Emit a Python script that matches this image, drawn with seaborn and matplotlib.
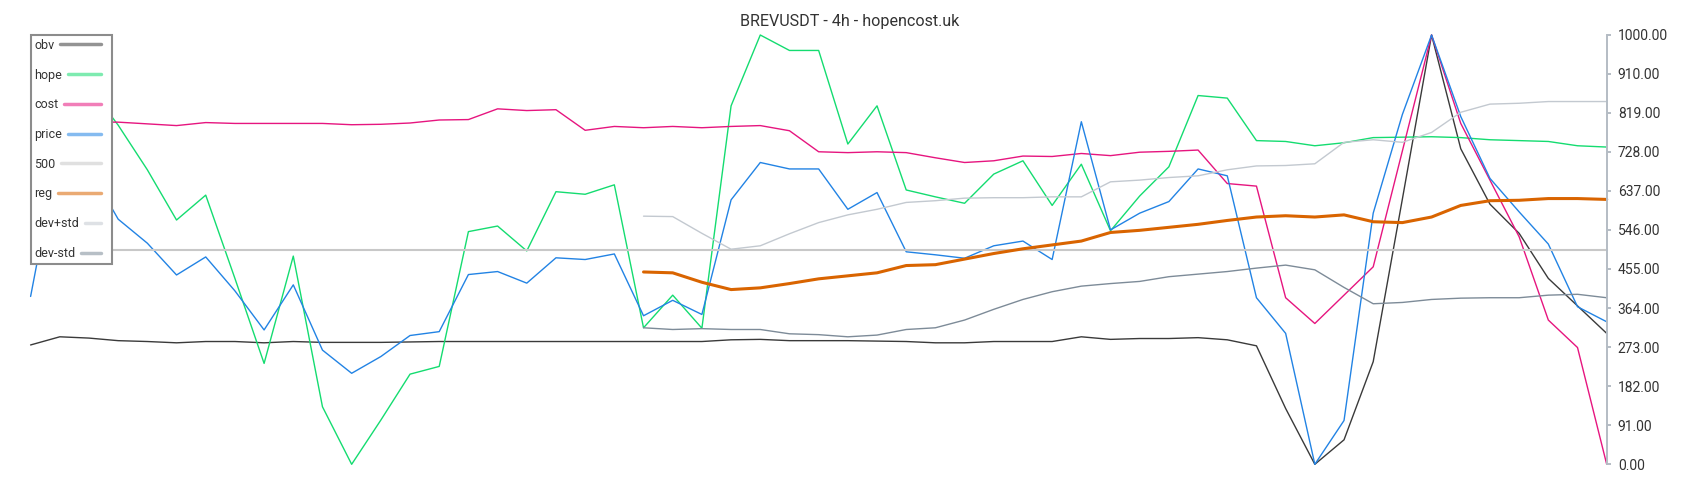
import numpy as np
import pandas as pd
import matplotlib
matplotlib.use("Agg")
import matplotlib.pyplot as plt
import seaborn as sns

# ---------------- data (normalised 0..1000) ----------------
obv = [278, 297, 294, 288, 286, 283, 286, 286, 283, 286,
       284, 284, 284, 285, 286, 286, 286, 286, 286, 286,
       286, 286, 286, 286, 290, 291, 288, 288, 288, 287,
       286, 283, 283, 286, 286, 286, 297, 291, 293, 293,
       295, 290, 276, 130, 0, 57, 239, 618, 1000, 735,
       606, 538, 433, 369, 305]
hope = [760, 840, 880, 790, 686, 569, 627, 433, 235, 485,
        134, 0, 103, 210, 228, 542, 555, 497, 635, 629,
        651, 318, 394, 317, 835, 1000, 964, 964, 746, 835,
        639, 623, 608, 676, 707, 603, 699, 544, 625, 693,
        859, 853, 754, 752, 742, 749, 761, 762, 763, 761,
        756, 754, 752, 742, 739]
cost = [800, 800, 797, 797, 793, 789, 796, 794, 794, 794,
        794, 791, 792, 795, 802, 803, 828, 824, 826, 778,
        787, 784, 787, 784, 787, 789, 777, 728, 726, 728,
        726, 714, 703, 707, 718, 717, 724, 719, 727, 729,
        732, 654, 648, 388, 328, 394, 460, 730, 1000, 794,
        662, 530, 336, 272, 0]
price = [391, 746, 690, 571, 515, 441, 483, 404, 313, 418,
         266, 212, 251, 300, 309, 442, 449, 422, 481, 477,
         490, 346, 382, 349, 616, 703, 688, 688, 594, 633,
         495, 488, 480, 509, 520, 477, 798, 546, 585, 612,
         688, 672, 388, 305, 0, 102, 585, 815, 1000, 810,
         666, 588, 513, 367, 332]
line500 = [500] * 55
reg = [np.nan] * 21 + [448, 446, 424, 407, 411, 421, 432, 439, 446,
                       463, 465, 478, 491, 502, 511, 520, 540, 545, 552,
                       559, 568, 576, 579, 576, 581, 565, 563, 576, 603,
                       614, 615, 619, 619, 617]
dev_plus = [np.nan] * 21 + [578, 577, 538, 501, 509, 537, 563, 581, 594,
                            610, 614, 620, 621, 621, 623, 623, 658, 662, 668,
                            672, 686, 695, 696, 700, 750, 756, 750, 773, 820,
                            839, 841, 845, 845, 845]
dev_minus = [np.nan] * 21 + [318, 314, 316, 314, 314, 304, 302, 297, 301,
                             314, 318, 336, 361, 384, 402, 415, 421, 426, 437,
                             443, 449, 457, 464, 453, 412, 374, 377, 384, 387,
                             388, 388, 394, 396, 388]

labels = ["obv", "hope", "cost", "price", "500", "reg", "dev+std", "dev-std"]
tick_values = [0, 91, 182, 273, 364, 455, 546, 637, 728, 819, 910, 1000]
title = "BREVUSDT - 4h - hopencost.uk"

# ---------------- style ----------------
sns.set_style("white")
plt.rcParams["font.family"] = ["Roboto", "DejaVu Sans"]

colors = {"obv": "#3a3a3a", "hope": "#14dc70", "cost": "#e6157f",
          "price": "#2283e4", "500": "#c8c8c8", "reg": "#d96400",
          "dev+std": "#c3c9d0", "dev-std": "#7d8b98"}
widths = {"obv": 1.0, "hope": 1.0, "cost": 1.0, "price": 1.0, "500": 1.5,
          "reg": 2.2, "dev+std": 1.0, "dev-std": 1.0}
series = {"obv": obv, "hope": hope, "cost": cost, "price": price,
          "500": line500, "reg": reg, "dev+std": dev_plus, "dev-std": dev_minus}

fig = plt.figure(figsize=(17, 5), dpi=100)
ax = fig.add_axes([30.6 / 1700, (500 - 464.3) / 500, 1576.1 / 1700, 429.3 / 500])

x = np.arange(55)
for name in labels:
    df = pd.DataFrame({"x": x, "y": series[name]}).dropna()
    sns.lineplot(data=df, x="x", y="y", ax=ax, color=colors[name],
                 linewidth=widths[name], label=name, clip_on=False,
                 estimator=None, sort=False)

ax.set_xlim(0, 54)
ax.set_ylim(0, 1000)
ax.xaxis.set_visible(False)
ax.set_ylabel("")
for s in ["left", "top", "bottom"]:
    ax.spines[s].set_visible(False)
ax.spines["right"].set_visible(True)
ax.spines["right"].set_color("#b4bcc4")
ax.spines["right"].set_linewidth(1.4)
ax.yaxis.tick_right()
ax.set_yticks(tick_values)
ax.set_yticklabels([f"{t:.2f}" for t in tick_values])
ax.tick_params(axis="y", length=3, width=1.4, color="#b4bcc4",
               labelsize=10, labelcolor="#333333", pad=5, right=True, left=False)
ax.grid(False)

fig.text(0.5, 1 - 26 / 500, title, ha="center", va="baseline",
         fontsize=11.6, color="#333333")

handles, labs = ax.get_legend_handles_labels()
leg = ax.legend(handles, labs, loc="upper left", bbox_to_anchor=(0, 1),
                borderaxespad=0, markerfirst=False, frameon=True,
                fancybox=False, framealpha=1, edgecolor="#8c8c8c",
                facecolor="white", fontsize=9, labelspacing=1.34,
                handlelength=1.3, handletextpad=0.45, borderpad=0.3,
                labelcolor="#333333", numpoints=1)
leg.get_frame().set_linewidth(1.5)
for h in leg.legend_handles:
    h.set_linewidth(2.5)
    h.set_alpha(0.55)

# make text left-aligned and handle lines end at common right edge
try:
    fig.canvas.draw()
    r = fig.canvas.get_renderer()
    dpi_cor = r.points_to_pixels(1.0)
    rows = [row for col in leg._legend_handle_box.get_children()
            for row in col.get_children()]
    tws = [row.get_children()[0].get_bbox(r).width for row in rows]
    hw = rows[0].get_children()[1].width * dpi_cor
    extra = 7.0
    target = max(tws) + hw + extra
    for row, w in zip(rows, tws):
        da = row.get_children()[1]
        new_w = (target - w) / dpi_cor
        da.width = new_w
        for ln in da.get_children():
            n = len(np.atleast_1d(ln.get_ydata()))
            ln.set_xdata(np.linspace(0, new_w - extra / dpi_cor, n))
except Exception:
    pass

fig.savefig("out.png", dpi=100)
